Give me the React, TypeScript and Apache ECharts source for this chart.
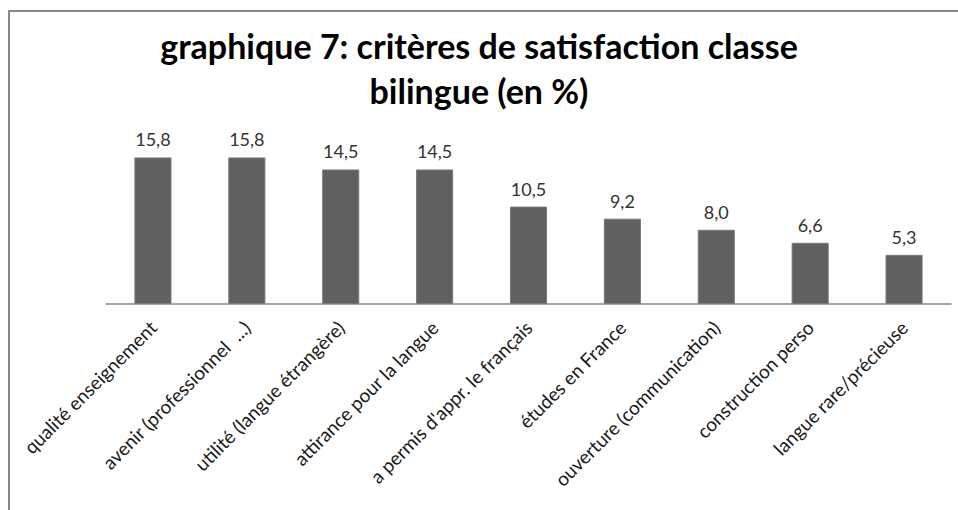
import React, { useEffect, useRef } from "react";
import * as echarts from "echarts";

const categories = [
  "qualité enseignement",
  "avenir (professionnel  ...)",
  "utilité (langue étrangère)",
  "attirance pour la langue",
  "a permis d'appr. le français",
  "études en France",
  "ouverture (communication)",
  "construction perso",
  "langue rare/précieuse",
];
const values = [15.8, 15.8, 14.5, 14.5, 10.5, 9.2, 8.0, 6.6, 5.3];
const titleText = "graphique 7: critères de satisfaction classe\nbilingue (en %)";

export default function App() {
  const ref = useRef<HTMLDivElement>(null);
  useEffect(() => {
    if (!ref.current) return;
    const chart = echarts.init(ref.current, null, { renderer: "svg" });
    chart.setOption({
      animation: false,
      backgroundColor: "#ffffff",
      title: {
        text: titleText,
        left: "center",
        top: 18,
        textStyle: {
          fontFamily: "Lato",
          fontWeight: "bold",
          fontSize: 34,
          lineHeight: 45,
          color: "#000000",
        },
      },
      graphic: [
        {
          type: "rect",
          shape: { x: 9, y: 11, width: 1200, height: 800 },
          style: { fill: "none", stroke: "#878787", lineWidth: 2 },
          silent: true,
        },
      ],
      grid: { left: 106, right: 7, top: 137, bottom: 206, containLabel: false },
      xAxis: {
        type: "category",
        data: categories,
        axisLine: { show: true, lineStyle: { color: "#868686", width: 1.5 } },
        axisTick: { show: false },
        axisLabel: {
          rotate: 45,
          interval: 0,
          margin: 20,
          fontFamily: "Lato",
          fontSize: 19,
          color: "#1a1a1a",
        },
      },
      yAxis: {
        type: "value",
        min: 0,
        max: 18,
        show: false,
        splitLine: { show: false },
      },
      series: [
        {
          type: "bar",
          data: values,
          barWidth: "39.5%",
          itemStyle: { color: "#606060", borderColor: "#7a7a7a", borderWidth: 1 },
          label: {
            show: true,
            position: "top",
            distance: 9,
            fontFamily: "Lato",
            fontSize: 18,
            color: "#333333",
            formatter: (p: any) => p.value.toFixed(1).replace(".", ","),
          },
        },
      ],
    });
    return () => chart.dispose();
  }, []);
  return (
    <div
      ref={ref}
      style={{ position: "fixed", left: 0, top: 0, width: 958, height: 510 }}
    />
  );
}
